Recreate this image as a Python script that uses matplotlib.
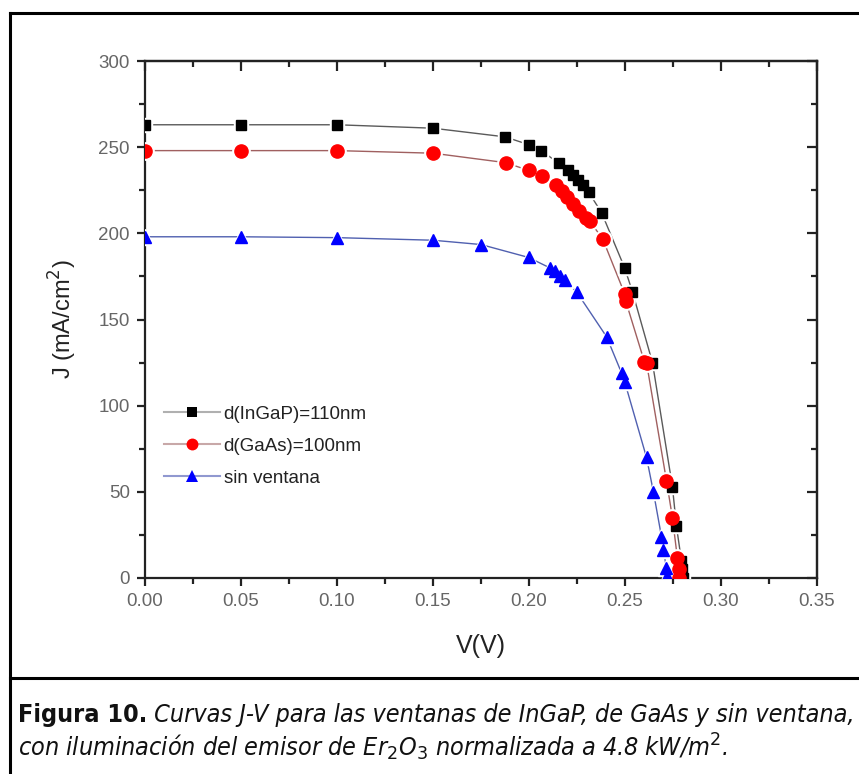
import matplotlib
matplotlib.use("Agg")
import matplotlib.pyplot as plt
from matplotlib.lines import Line2D
from matplotlib.ticker import MultipleLocator, NullFormatter

# ---- data ----
v_ingap = [0.0, 0.05, 0.10, 0.15, 0.1874, 0.1998, 0.206, 0.2154, 0.2201, 0.2227, 0.2253,
           0.2279, 0.2310, 0.2378, 0.2498, 0.2539, 0.2643, 0.2747, 0.2768, 0.2794, 0.2798, 0.2800]
j_ingap = [263, 263, 263, 261, 256, 251.5, 248, 241, 237, 234, 231,
           228, 224, 212, 180, 166, 125, 53, 30, 10, 5, 0]

v_gaas = [0.0, 0.05, 0.10, 0.15, 0.1879, 0.1998, 0.2066, 0.2139, 0.217, 0.2196, 0.2227,
          0.2263, 0.2295, 0.2316, 0.2383, 0.2498, 0.2503, 0.2601, 0.2612, 0.2716, 0.2747,
          0.2773, 0.2780, 0.2782]
j_gaas = [248, 248, 248, 246.5, 241, 236.5, 233, 228, 224.5, 221, 217,
          213, 209, 207, 197, 165, 161, 125.5, 125, 56.5, 35,
          11.5, 5, 0]

v_sin = [0.0, 0.05, 0.10, 0.15, 0.175, 0.1998, 0.2108, 0.2134, 0.216, 0.2185, 0.2248,
         0.2404, 0.2482, 0.2498, 0.2612, 0.2648, 0.2690, 0.2700, 0.2716, 0.2718]
j_sin = [198, 198, 197.5, 196, 193.5, 186, 180, 178, 175.5, 173, 166,
         140, 119, 114, 70, 50, 24, 16, 6, 1]

labels = ["d(InGaP)=110nm", "d(GaAs)=100nm", "sin ventana"]
x_ticks = [0.00, 0.05, 0.10, 0.15, 0.20, 0.25, 0.30, 0.35]
y_ticks = [0, 50, 100, 150, 200, 250, 300]

plt.rcParams['font.family'] = ['Liberation Sans', 'DejaVu Sans']

W, H = 859, 774
fig = plt.figure(figsize=(W / 100, H / 100), dpi=100)
ax = fig.add_axes([145 / W, 1 - 578 / H, (817 - 145) / W, (578 - 61) / H])

series = [
    (v_ingap, j_ingap, 's', 'black', '#5a5a5a', '#b0b0b0', 7.5),
    (v_gaas, j_gaas, 'o', '#ff0000', '#a06060', '#c8a8a8', 9.5),
    (v_sin, j_sin, '^', '#0000ff', '#5060b0', '#9098d0', 9.0),
]
handles = []
for (vx, jy, mk, mc, lc, lc_leg, ms), lab in zip(series, labels):
    ax.plot(vx, jy, '-', color=lc, lw=1.0, zorder=2)
    ax.plot(vx, jy, mk, ms=ms + 3, color='white', mec='white', lw=0, zorder=3)
    ax.plot(vx, jy, mk, ms=ms, color=mc, mec=mc, lw=0, zorder=4)
    handles.append(Line2D([], [], color=lc_leg, lw=1.5, marker=mk, ms=ms * 0.9,
                          mfc=mc, mec=mc, markeredgewidth=0))

ax.set_xlim(0, 0.35)
ax.set_ylim(0, 300)
ax.set_xticks(x_ticks)
ax.set_xticklabels([f"{t:.2f}" for t in x_ticks])
ax.set_yticks(y_ticks)
ax.xaxis.set_minor_locator(MultipleLocator(0.025))
ax.yaxis.set_minor_locator(MultipleLocator(25))
for s in ax.spines.values():
    s.set_linewidth(1.6)
    s.set_color('#222222')
ax.tick_params(which='both', direction='out', colors='#222222', labelcolor='#666666',
               labelsize=13.5, width=1.6, top=False, right=False)
ax.tick_params(which='major', length=6, pad=5)
ax.tick_params(which='minor', length=4)

# top / right ticks pointing inward, no labels
sx = ax.secondary_xaxis('top')
sx.set_xticks(x_ticks)
sx.xaxis.set_minor_locator(MultipleLocator(0.025))
sx.xaxis.set_major_formatter(NullFormatter())
sx.tick_params(which='both', direction='in', width=1.6, colors='#222222')
sx.tick_params(which='major', length=7)
sx.tick_params(which='minor', length=4)
sy = ax.secondary_yaxis('right')
sy.set_yticks(y_ticks)
sy.yaxis.set_minor_locator(MultipleLocator(25))
sy.yaxis.set_major_formatter(NullFormatter())
sy.tick_params(which='both', direction='in', width=1.6, colors='#222222')
sy.tick_params(which='major', length=7)
sy.tick_params(which='minor', length=4)
for s in list(sx.spines.values()) + list(sy.spines.values()):
    s.set_linewidth(1.6)
    s.set_color('#222222')

ax.set_xlabel("V(V)", fontsize=18, labelpad=17, color='#222222')
ax.set_ylabel("J (mA/cm$^2$)", fontsize=17, labelpad=14, color='#222222')

leg = ax.legend(handles, labels, loc='center left', bbox_to_anchor=(0.0, 0.255),
                frameon=False, fontsize=13.5, handlelength=3.0, handletextpad=0.2,
                labelspacing=0.8, borderaxespad=0.6)
for t in leg.get_texts():
    t.set_color('#222222')

# outer frame
lw = 2.2
fig.add_artist(Line2D([10 / W, 1.0], [1 - 13 / H, 1 - 13 / H], color='black', lw=lw,
                      transform=fig.transFigure))
fig.add_artist(Line2D([10 / W, 10 / W], [1 - 13 / H, 0.0], color='black', lw=lw,
                      transform=fig.transFigure))
fig.add_artist(Line2D([10 / W, 1.0], [1 - 678 / H, 1 - 678 / H], color='black', lw=lw,
                      transform=fig.transFigure))

cap_font = ['DejaVu Sans']
cap_size = 18
t1 = fig.text(18 / W, 1 - 722 / H, "Figura 10.", fontsize=cap_size, fontweight='bold',
              family=cap_font, stretch='condensed', color='#111111')
ax.annotate(" Curvas J-V para las ventanas de InGaP, de GaAs y sin ventana,",
            xy=(1, 0), xycoords=t1, va='bottom', ha='left', fontsize=cap_size,
            style='italic', family=cap_font, stretch='condensed', color='#111111',
            annotation_clip=False)
fig.text(18 / W, 1 - 756 / H,
         "con iluminación del emisor de Er$_2$O$_3$ normalizada a 4.8 kW/m$^2$.",
         fontsize=cap_size, style='italic', family=cap_font, stretch='condensed',
         color='#111111')

fig.savefig("out.png", dpi=100)
